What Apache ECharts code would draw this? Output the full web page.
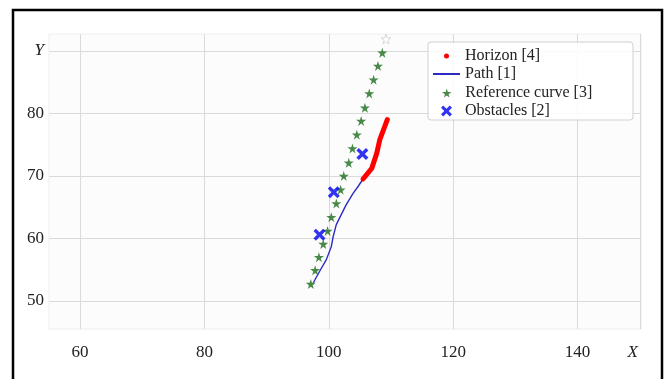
<!DOCTYPE html>
<html style="height: 100%">
<head>
	<meta charset="utf-8">
</head>
<body style="height: 100%; margin: 0; background: #fff">
<div id="container" style="width: 668px; height: 379px"></div>
<script type="text/javascript" src="https://cdn.jsdelivr.net/npm/echarts@6/dist/echarts.min.js"></script>
<script type="text/javascript">
    var dom = document.getElementById("container");
    var myChart = echarts.init(dom);

    // data
    var xTicks = [60, 80, 100, 120, 140, 150];
    var yTicks = [50, 60, 70, 80, 90];
    var refX = [97.1, 97.8, 98.4, 99.1, 99.8, 100.4, 101.2, 101.9, 102.4, 103.2, 103.8, 104.5, 105.2, 105.8, 106.5, 107.2, 107.9, 108.6];
    var refY = [52.7, 54.9, 57.0, 59.1, 61.2, 63.4, 65.6, 67.8, 70.0, 72.1, 74.4, 76.6, 78.8, 80.9, 83.2, 85.4, 87.6, 89.7];
    var refEnd = [109.2, 91.9];
    var pathX = [97.5, 98.5, 99.6, 100.4, 100.7, 101.2, 102.0, 102.8, 103.9, 104.7, 105.5];
    var pathY = [52.9, 54.7, 56.6, 58.7, 60.3, 62.2, 63.8, 65.4, 67.2, 68.3, 69.5];
    var horizonX = [105.5, 105.8, 106.9, 107.7, 108.2, 109.4];
    var horizonY = [69.5, 69.6, 71.2, 73.6, 75.8, 79.0];
    var obsX = [98.5, 100.8, 105.4];
    var obsY = [60.6, 67.4, 73.5];
    var names = ['Horizon [4]', 'Path [1]', 'Reference curve [3]', 'Obstacles [2]'];

    function zip(a, b) {
        return a.map(function (v, i) { return [v, b[i]]; });
    }

    var starPath = 'path://M50,0 L61,35 L98,35 L68,57 L79,91 L50,70 L21,91 L32,57 L2,35 L39,35 Z';
    var crossPath = 'path://M0,2 L2,0 L5,3 L8,0 L10,2 L7,5 L10,8 L8,10 L5,7 L2,10 L0,8 L3,5 Z';
    var font = 'Liberation Serif';

    function legendItem(name, left, top, icon, w, h) {
        return {
            data: [{ name: name, icon: icon }],
            left: left,
            top: top,
            itemWidth: w,
            itemHeight: h,
            symbolKeepAspect: true,
            selectedMode: false,
            padding: 0,
            textStyle: { fontFamily: font, fontSize: 16, color: '#222' }
        };
    }

    var option = {
        backgroundColor: '#fff',
        animation: false,
        grid: {
            left: 49, right: 27, top: 34, bottom: 50,
            show: true, backgroundColor: '#fcfcfc', borderColor: '#eeeeee', borderWidth: 1
        },
        graphic: [{
            type: 'polyline',
            shape: { points: [[13, 390], [13, 10], [662, 10], [662, 390]] },
            style: { fill: null, stroke: '#000', lineWidth: 2.5 },
            z: 10
        }, {
            type: 'rect',
            shape: { x: 428, y: 42, width: 205, height: 78, r: 3 },
            style: { fill: 'rgba(255,255,255,0.85)', stroke: '#d0d0d0', lineWidth: 1 },
            z: 3
        }],
        legend: [
            legendItem(names[0], 444, 48, 'circle', 27, 5),
            legendItem(names[1], 432, 66, null, 27, 2),
            legendItem(names[2], 442, 85, starPath, 27, 9),
            legendItem(names[3], 441, 103, crossPath, 27, 11)
        ],
        xAxis: {
            type: 'value', min: 55, max: 150.2,
            axisLine: { show: false }, axisTick: { show: false, customValues: xTicks },
            splitLine: { show: true, customValues: xTicks, lineStyle: { color: '#dadada', width: 1 } },
            axisLabel: {
                customValues: xTicks, margin: 15, fontFamily: font, fontSize: 17, color: '#222',
                formatter: function (v) { return v === 150 ? '{i|X}' : v; },
                rich: { i: { fontStyle: 'italic', fontFamily: font, fontSize: 17, color: '#222', padding: [0, 14, 0, 0] } }
            }
        },
        yAxis: {
            type: 'value', min: 45.5, max: 92.7,
            axisLine: { show: false }, axisTick: { show: false, customValues: yTicks },
            splitLine: { show: true, customValues: yTicks, lineStyle: { color: '#dadada', width: 1 } },
            axisLabel: {
                customValues: yTicks, margin: 5, fontFamily: font, fontSize: 17, color: '#222',
                formatter: function (v) { return v === 90 ? '{i|Y}' : v; },
                rich: { i: { fontStyle: 'italic', fontFamily: font, fontSize: 17, color: '#222' } }
            }
        },
        series: [{
            name: names[1], type: 'line', data: zip(pathX, pathY), symbol: 'none',
            lineStyle: { color: '#2c2cc4', width: 1.4 }, itemStyle: { color: '#2c2cc4' }, z: 2
        }, {
            name: names[0], type: 'line', data: zip(horizonX, horizonY), symbol: 'none',
            lineStyle: { color: '#ff0000', width: 5, cap: 'round', join: 'round' }, itemStyle: { color: '#ff0000' }, z: 3
        }, {
            name: names[2], type: 'scatter', data: zip(refX, refY), symbol: starPath, symbolSize: 10,
            itemStyle: { color: '#1a6b1a' }, z: 2
        }, {
            name: 'ref-end', type: 'scatter', data: [refEnd], symbol: starPath, symbolSize: 10,
            itemStyle: { color: '#ffffff', borderColor: '#cfcfcf', borderWidth: 1 }, z: 2
        }, {
            name: names[3], type: 'scatter', data: zip(obsX, obsY), symbol: crossPath, symbolSize: 12,
            itemStyle: { color: '#0000f0' }, z: 4
        }]
    };

    myChart.setOption(option, true);
</script>
</body>
</html>
